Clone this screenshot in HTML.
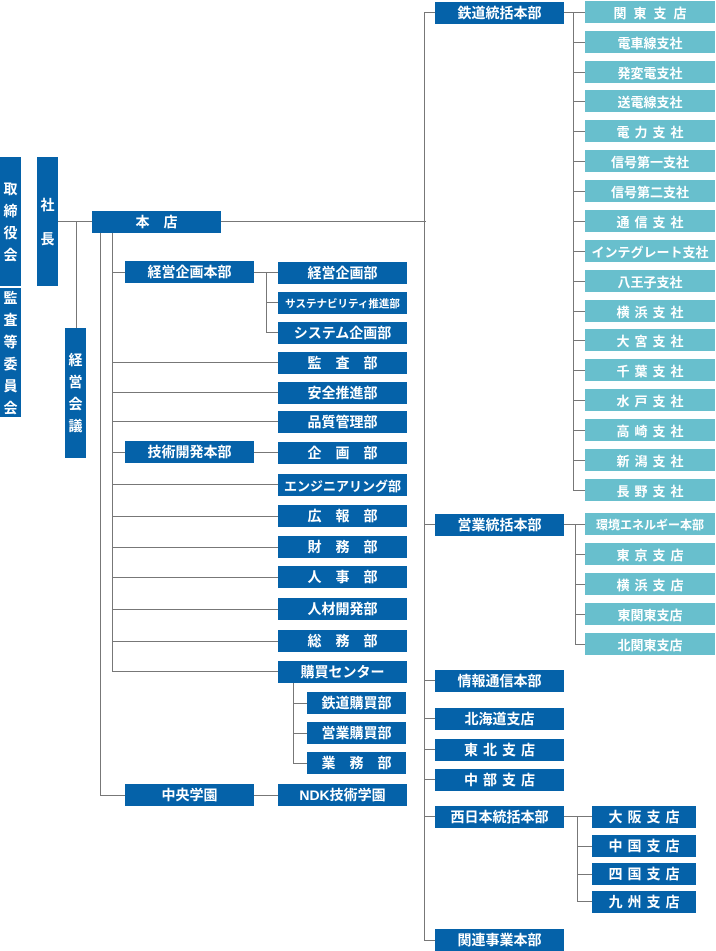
<!DOCTYPE html>
<html><head><meta charset="utf-8"><style>
body{margin:0;width:716px;height:950px;background:#fff;position:relative;overflow:hidden;font-family:"Liberation Sans","Noto Sans CJK JP",sans-serif}
.b,.t{position:absolute;height:22px;color:#fff;font-weight:bold;font-size:13px;display:flex;align-items:center;justify-content:center;white-space:nowrap;box-sizing:border-box}
.b{background:#0562a9;font-size:14px}
.t{background:#68bfcd;width:130px;left:585px}
.s5{letter-spacing:5px;padding-left:5px}
.v{position:absolute;color:#fff;font-weight:bold;font-size:14px;background:#0562a9;display:flex;flex-direction:column;align-items:center;justify-content:center;line-height:22px}
.h{position:absolute;height:1px;background:#777}
.l{position:absolute;width:1px;background:#777}
.m{width:129px;left:278px}
.r{width:129px;left:435px}
</style></head><body>
<div class="h" style="left:58px;top:221px;width:368px"></div>
<div class="l" style="left:76px;top:221px;height:107px"></div>
<div class="l" style="left:100px;top:232px;height:563px"></div>
<div class="l" style="left:112px;top:232px;height:439px"></div>
<div class="h" style="left:112px;top:272px;width:13px"></div>
<div class="h" style="left:254px;top:272px;width:24px"></div>
<div class="l" style="left:266px;top:272px;height:60px"></div>
<div class="h" style="left:266px;top:302px;width:12px"></div>
<div class="h" style="left:266px;top:332px;width:12px"></div>
<div class="h" style="left:112px;top:362px;width:166px"></div>
<div class="h" style="left:112px;top:392px;width:166px"></div>
<div class="h" style="left:112px;top:421px;width:166px"></div>
<div class="h" style="left:112px;top:452px;width:13px"></div>
<div class="h" style="left:254px;top:452px;width:24px"></div>
<div class="h" style="left:112px;top:484px;width:166px"></div>
<div class="h" style="left:112px;top:516px;width:166px"></div>
<div class="h" style="left:112px;top:547px;width:166px"></div>
<div class="h" style="left:112px;top:577px;width:166px"></div>
<div class="h" style="left:112px;top:609px;width:166px"></div>
<div class="h" style="left:112px;top:641px;width:166px"></div>
<div class="h" style="left:112px;top:671px;width:166px"></div>
<div class="l" style="left:293px;top:683px;height:80px"></div>
<div class="h" style="left:293px;top:703px;width:14px"></div>
<div class="h" style="left:293px;top:733px;width:14px"></div>
<div class="h" style="left:293px;top:763px;width:14px"></div>
<div class="h" style="left:100px;top:795px;width:25px"></div>
<div class="h" style="left:254px;top:795px;width:24px"></div>
<div class="l" style="left:424px;top:12px;height:928px"></div>
<div class="h" style="left:424px;top:12px;width:11px"></div>
<div class="h" style="left:424px;top:524px;width:11px"></div>
<div class="h" style="left:424px;top:680px;width:11px"></div>
<div class="h" style="left:424px;top:718px;width:11px"></div>
<div class="h" style="left:424px;top:749px;width:11px"></div>
<div class="h" style="left:424px;top:779px;width:11px"></div>
<div class="h" style="left:424px;top:816px;width:11px"></div>
<div class="h" style="left:424px;top:940px;width:11px"></div>
<div class="h" style="left:564px;top:12px;width:21px"></div>
<div class="l" style="left:573px;top:12px;height:479px"></div>
<div class="h" style="left:573px;top:42px;width:12px"></div><div class="h" style="left:573px;top:72px;width:12px"></div><div class="h" style="left:573px;top:101px;width:12px"></div><div class="h" style="left:573px;top:131px;width:12px"></div><div class="h" style="left:573px;top:161px;width:12px"></div><div class="h" style="left:573px;top:191px;width:12px"></div><div class="h" style="left:573px;top:221px;width:12px"></div><div class="h" style="left:573px;top:251px;width:12px"></div><div class="h" style="left:573px;top:281px;width:12px"></div><div class="h" style="left:573px;top:311px;width:12px"></div><div class="h" style="left:573px;top:340px;width:12px"></div><div class="h" style="left:573px;top:370px;width:12px"></div><div class="h" style="left:573px;top:400px;width:12px"></div><div class="h" style="left:573px;top:430px;width:12px"></div><div class="h" style="left:573px;top:460px;width:12px"></div><div class="h" style="left:573px;top:490px;width:12px"></div>
<div class="h" style="left:564px;top:524px;width:21px"></div>
<div class="l" style="left:575px;top:524px;height:120px"></div>
<div class="h" style="left:575px;top:554px;width:10px"></div><div class="h" style="left:575px;top:584px;width:10px"></div><div class="h" style="left:575px;top:614px;width:10px"></div><div class="h" style="left:575px;top:644px;width:10px"></div>
<div class="h" style="left:564px;top:816px;width:28px"></div>
<div class="l" style="left:577px;top:816px;height:85px"></div>
<div class="h" style="left:577px;top:846px;width:15px"></div><div class="h" style="left:577px;top:874px;width:15px"></div><div class="h" style="left:577px;top:901px;width:15px"></div>
<div class="v" style="left:0;top:157px;width:21px;height:129px">取<br>締<br>役<br>会</div>
<div class="v" style="left:0;top:288px;width:21px;height:129px">監<br>査<br>等<br>委<br>員<br>会</div>
<div class="v" style="left:37px;top:157px;width:21px;height:129px;line-height:34px">社<br>長</div>
<div class="v" style="left:65px;top:328px;width:21px;height:130px">経<br>営<br>会<br>議</div>
<div class="b" style="left:92px;top:211px;width:129px;letter-spacing:14px;padding-left:14px">本店</div>
<div class="b" style="left:125px;top:261px;width:129px">経営企画本部</div>
<div class="b" style="left:125px;top:441px;width:129px">技術開発本部</div>
<div class="b" style="left:125px;top:784px;width:129px">中央学園</div>
<div class="b m" style="top:262px">経営企画部</div>
<div class="b m" style="top:292px;font-size:10.5px">サステナビリティ推進部</div>
<div class="b m" style="top:322px">システム企画部</div>
<div class="b m" style="top:352px">監　査　部</div>
<div class="b m" style="top:382px">安全推進部</div>
<div class="b m" style="top:411px">品質管理部</div>
<div class="b m" style="top:442px">企　画　部</div>
<div class="b m" style="top:474px;font-size:13px">エンジニアリング部</div>
<div class="b m" style="top:505px">広　報　部</div>
<div class="b m" style="top:536px">財　務　部</div>
<div class="b m" style="top:566px">人　事　部</div>
<div class="b m" style="top:598px">人材開発部</div>
<div class="b m" style="top:630px">総　務　部</div>
<div class="b m" style="top:661px">購買センター</div>
<div class="b" style="left:307px;top:692px;width:99px">鉄道購買部</div>
<div class="b" style="left:307px;top:722px;width:99px">営業購買部</div>
<div class="b" style="left:307px;top:752px;width:99px">業　務　部</div>
<div class="b m" style="top:784px">NDK技術学園</div>
<div class="b r" style="top:2px">鉄道統括本部</div>
<div class="b r" style="top:514px">営業統括本部</div>
<div class="b r" style="top:670px">情報通信本部</div>
<div class="b r" style="top:708px">北海道支店</div>
<div class="b r s5" style="top:739px">東北支店</div>
<div class="b r s5" style="top:769px">中部支店</div>
<div class="b r" style="top:806px">西日本統括本部</div>
<div class="b r" style="top:929px">関連事業本部</div>
<div class="t" style="top:1px;letter-spacing:7px;padding-left:7px">関東支店</div>
<div class="t" style="top:31px">電車線支社</div>
<div class="t" style="top:61px">発変電支社</div>
<div class="t" style="top:90px">送電線支社</div>
<div class="t s5" style="top:120px">電力支社</div>
<div class="t" style="top:150px">信号第一支社</div>
<div class="t" style="top:180px">信号第二支社</div>
<div class="t s5" style="top:210px">通信支社</div>
<div class="t" style="top:240px">インテグレート支社</div>
<div class="t" style="top:270px">八王子支社</div>
<div class="t s5" style="top:300px">横浜支社</div>
<div class="t s5" style="top:329px">大宮支社</div>
<div class="t s5" style="top:359px">千葉支社</div>
<div class="t s5" style="top:389px">水戸支社</div>
<div class="t s5" style="top:419px">高崎支社</div>
<div class="t s5" style="top:449px">新潟支社</div>
<div class="t s5" style="top:479px">長野支社</div>
<div class="t" style="top:513px;font-size:12px">環境エネルギー本部</div>
<div class="t s5" style="top:543px">東京支店</div>
<div class="t s5" style="top:573px">横浜支店</div>
<div class="t" style="top:603px">東関東支店</div>
<div class="t" style="top:633px">北関東支店</div>
<div class="b s5" style="left:592px;top:806px;width:104px">大阪支店</div>
<div class="b s5" style="left:592px;top:835px;width:104px">中国支店</div>
<div class="b s5" style="left:592px;top:863px;width:104px">四国支店</div>
<div class="b s5" style="left:592px;top:891px;width:104px">九州支店</div>
</body></html>
